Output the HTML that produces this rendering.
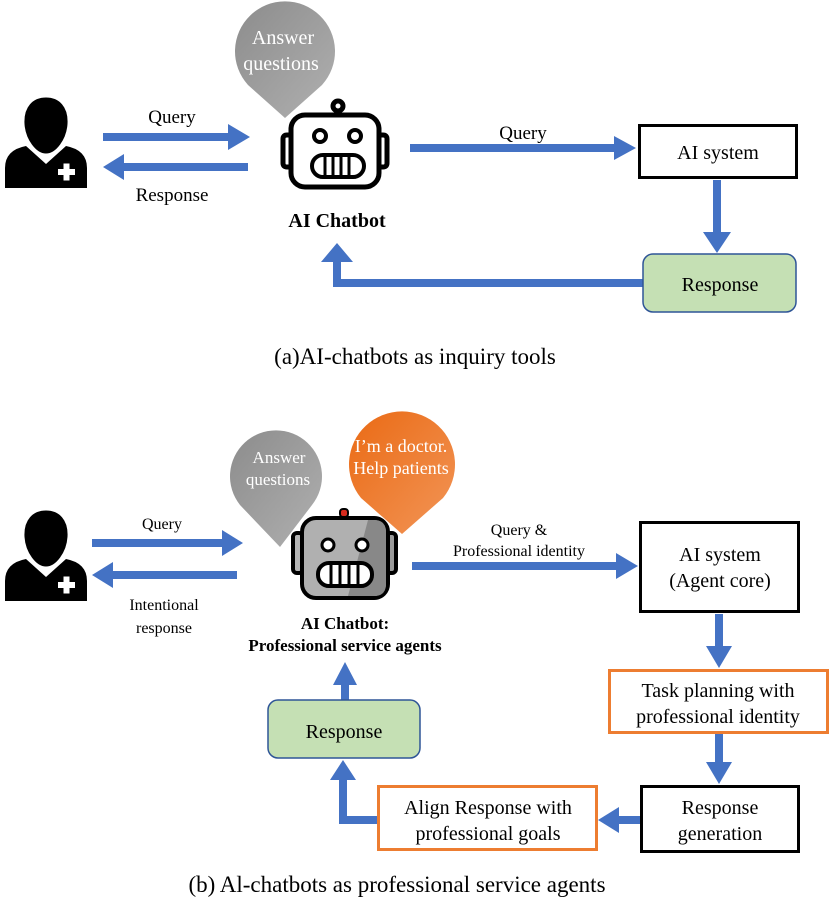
<!DOCTYPE html>
<html><head><meta charset="utf-8"><style>
html,body{margin:0;padding:0;background:#fff;}
svg{display:block;font-family:"Liberation Serif",serif;}
</style></head><body>
<svg width="830" height="914" viewBox="0 0 830 914" xmlns="http://www.w3.org/2000/svg">
<defs>
<linearGradient id="gg" x1="0" y1="0" x2="1" y2="1"><stop offset="0" stop-color="#8c8c8c"/><stop offset="1" stop-color="#b0b0b0"/></linearGradient>
<linearGradient id="og" x1="0" y1="0" x2="1" y2="1"><stop offset="0" stop-color="#ea6a14"/><stop offset="1" stop-color="#f29557"/></linearGradient>
<g id="doc">
<path d="M5 188 L5 168 Q5 150 26 146 L46 164 L66 146 Q87 150 87 168 L87 188 Z" fill="#000"/>
<path d="M46 96 C32 96 22 106 23 124 C24 140 35 155 46 155 C57 155 68 140 69 124 C70 106 60 96 46 96 Z" fill="#000" stroke="#fff" stroke-width="3"/>
<rect x="58" y="169" width="17" height="6" fill="#fff"/>
<rect x="63.5" y="163.5" width="6" height="17" fill="#fff"/>
</g>
</defs>
<g fill="#4472C4">
<!-- top -->
<polygon points="103,133 228,133 228,124 250,137 228,150 228,141 103,141"/>
<polygon points="248,163 124,163 124,154 103,167 124,180 124,171 248,171"/>
<polygon points="410,144 614,144 614,136 636,148 614,160 614,152 410,152"/>
<polygon points="713,180 721,180 721,232 731,232 717,253 703,232 713,232"/>
<polygon points="643,279 341,279 341,262 353,262 337,243 321,262 333,262 333,287 643,287"/>
<!-- bottom -->
<polygon points="92,539 222,539 222,530 243,543 222,556 222,547 92,547"/>
<polygon points="237,571 113,571 113,562 92,575 113,588 113,579 237,579"/>
<polygon points="412,562 616,562 616,553 638,566 616,579 616,570 412,570"/>
<polygon points="715,614 723,614 723,646 732,646 719,668 706,646 715,646"/>
<polygon points="715,734 723,734 723,762 732,762 719,784 706,762 715,762"/>
<polygon points="640,816 619,816 619,807 598,820 619,833 619,824 640,824"/>
<polygon points="378,816 347,816 347,780 356,780 343,760 330,780 339,780 339,824 378,824"/>
<polygon points="341,700 349,700 349,685 357,685 345,662 333,685 341,685"/>
</g>
<use href="#doc"/>
<use href="#doc" transform="translate(0,413)"/>
<!-- gray bubble top -->
<path d="M285,118 L248,85 A50,50 0 1 1 322,85 Z" fill="url(#gg)"/>
<text x="283" y="44" font-size="20" fill="#fff" text-anchor="middle">Answer</text>
<text x="281" y="70" font-size="20" fill="#fff" text-anchor="middle">questions</text>
<!-- robot top -->
<g fill="none" stroke="#000" stroke-width="5">
<rect x="291" y="115" width="88" height="72" rx="14"/>
<path d="M291 135 h-4 q-4 0 -4 4 v24 q0 4 4 4 h4"/>
<path d="M379 135 h4 q4 0 4 4 v24 q0 4 -4 4 h-4"/>
<circle cx="338" cy="106" r="5"/>
<circle cx="320" cy="136" r="6" stroke-width="4"/>
<circle cx="355" cy="136" r="6" stroke-width="4"/>
<rect x="312" y="155" width="52" height="22" rx="11" stroke-width="4"/>
<path d="M325 157 v18 M333 157 v18 M341 157 v18 M349 157 v18" stroke-width="3"/>
</g>
<text x="337" y="227" font-size="20" font-weight="bold" text-anchor="middle">AI Chatbot</text>
<text x="172" y="123" font-size="19" text-anchor="middle">Query</text>
<text x="172" y="201" font-size="19" text-anchor="middle">Response</text>
<text x="523" y="139" font-size="19" text-anchor="middle">Query</text>
<rect x="639.5" y="125.5" width="157" height="52" fill="#fff" stroke="#000" stroke-width="3"/>
<text x="718" y="159" font-size="20" text-anchor="middle">AI system</text>
<rect x="643" y="254" width="153" height="58" rx="10" fill="#C5E0B4" stroke="#2F5597" stroke-width="1.5"/>
<text x="720" y="291" font-size="20" text-anchor="middle">Response</text>
<text x="415" y="364" font-size="23" text-anchor="middle">(a)AI-chatbots as inquiry tools</text>

<!-- bottom bubbles -->
<path d="M280,547 L240,505 A46,46 0 1 1 312,505 Z" fill="url(#gg)"/>
<text x="279" y="463" font-size="17" fill="#fff" text-anchor="middle">Answer</text>
<text x="278" y="485" font-size="17" fill="#fff" text-anchor="middle">questions</text>
<path d="M402,534 L361,498 A53,53 0 1 1 443,498 Z" fill="url(#og)"/>
<text x="401" y="452" font-size="18" fill="#fff" text-anchor="middle">I’m a doctor.</text>
<text x="401" y="474" font-size="18" fill="#fff" text-anchor="middle">Help patients</text>
<!-- robot gray -->
<rect x="340" y="509" width="8" height="8" rx="3" fill="#d62a1e" stroke="#000" stroke-width="2"/>
<rect x="293" y="533" width="10" height="40" rx="4" fill="#b5b5b5" stroke="#000" stroke-width="4"/>
<rect x="386" y="533" width="10" height="40" rx="4" fill="#9a9a9a" stroke="#000" stroke-width="4"/>
<rect x="302" y="518" width="86" height="80" rx="14" fill="#b0b0b0" stroke="#000" stroke-width="4"/>
<path d="M368 520 L374 520 Q386 520 386 532 L386 584 Q386 596 374 596 L348 596 Z" fill="#888"/>
<circle cx="328" cy="545" r="6" fill="#fff" stroke="#000" stroke-width="3"/>
<circle cx="362" cy="545" r="6" fill="#fff" stroke="#000" stroke-width="3"/>
<rect x="318" y="563" width="54" height="23" rx="11" fill="#fff" stroke="#000" stroke-width="4"/>
<path d="M331 565 v19 M340 565 v19 M349 565 v19 M358 565 v19" stroke="#000" stroke-width="3"/>
<text x="345" y="629" font-size="17" font-weight="bold" text-anchor="middle">AI Chatbot:</text>
<text x="345" y="651" font-size="17" font-weight="bold" text-anchor="middle">Professional service agents</text>
<text x="162" y="529" font-size="16" text-anchor="middle">Query</text>
<text x="164" y="610" font-size="16" text-anchor="middle">Intentional</text>
<text x="164" y="633" font-size="16" text-anchor="middle">response</text>
<text x="519" y="535" font-size="16" text-anchor="middle">Query &amp;</text>
<text x="519" y="556" font-size="16" text-anchor="middle">Professional identity</text>
<rect x="640.5" y="522.5" width="158" height="89" fill="#fff" stroke="#000" stroke-width="3"/>
<text x="720" y="561" font-size="20" text-anchor="middle">AI system</text>
<text x="720" y="587" font-size="20" text-anchor="middle">(Agent core)</text>
<rect x="609.5" y="670.5" width="218" height="62" fill="#fff" stroke="#ED7D31" stroke-width="3"/>
<text x="718" y="697" font-size="20" text-anchor="middle">Task planning with</text>
<text x="718" y="723" font-size="20" text-anchor="middle">professional identity</text>
<rect x="641.5" y="786.5" width="157" height="65" fill="#fff" stroke="#000" stroke-width="3"/>
<text x="720" y="814" font-size="20" text-anchor="middle">Response</text>
<text x="720" y="840" font-size="20" text-anchor="middle">generation</text>
<rect x="378.5" y="786.5" width="218" height="63" fill="#fff" stroke="#ED7D31" stroke-width="3"/>
<text x="488" y="814" font-size="20" text-anchor="middle">Align Response with</text>
<text x="488" y="840" font-size="20" text-anchor="middle">professional goals</text>
<rect x="268" y="700" width="152" height="58" rx="10" fill="#C5E0B4" stroke="#2F5597" stroke-width="1.5"/>
<text x="344" y="738" font-size="20" text-anchor="middle">Response</text>
<text x="397" y="892" font-size="23" text-anchor="middle">(b) Al-chatbots as professional service agents</text>
</svg>
</body></html>
